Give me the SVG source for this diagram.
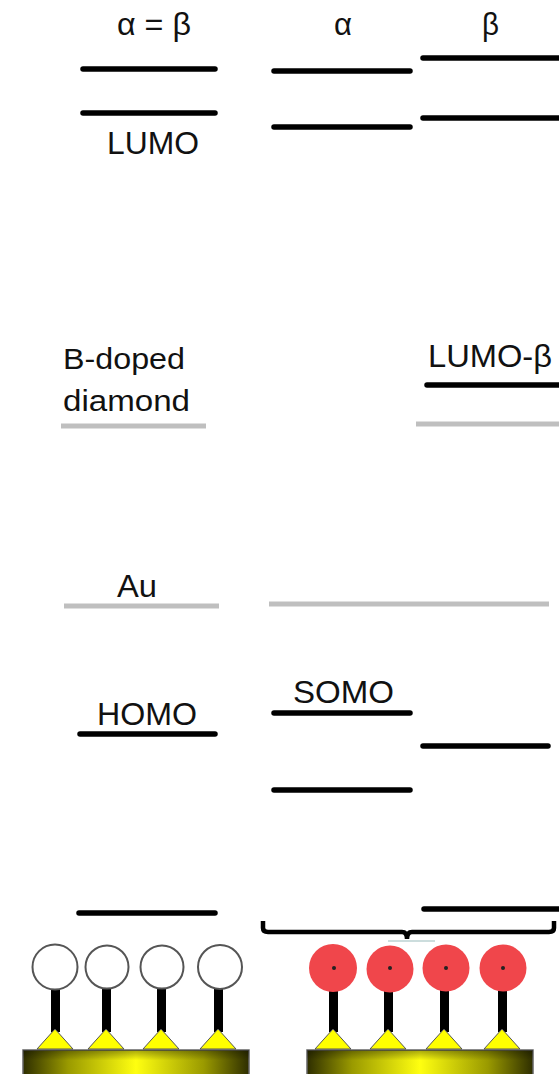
<svg xmlns="http://www.w3.org/2000/svg" width="559" height="1074" viewBox="0 0 559 1074">
  <style>
    .lvl { stroke: #000; stroke-width: 5.5; stroke-linecap: round; fill: none; }
    .ref { stroke: #bfbfbf; stroke-width: 5; fill: none; }
    .lbl { font-family: "Liberation Sans", Arial, sans-serif; fill: #111; }
    .stem { fill: #000; }
    .tri { fill: #ffff00; stroke: #555; stroke-width: 1; }
    .base { fill: url(#gold); stroke: #666; stroke-width: 1.5; }
    .head-open { fill: #fff; stroke: #555; stroke-width: 2; }
    .head-rad { fill: #f0464b; }
  </style>
  <defs>
    <linearGradient id="gold" x1="0" y1="0" x2="1" y2="0">
      <stop offset="0" stop-color="#2e2e00"/>
      <stop offset="0.2" stop-color="#9a9a00"/>
      <stop offset="0.5" stop-color="#ffff10"/>
      <stop offset="0.8" stop-color="#9a9a00"/>
      <stop offset="1" stop-color="#2e2e00"/>
    </linearGradient>
    <linearGradient id="shade" x1="0" y1="0" x2="0" y2="1">
      <stop offset="0" stop-color="#000" stop-opacity="0.35"/>
      <stop offset="0.35" stop-color="#000" stop-opacity="0"/>
      <stop offset="1" stop-color="#000" stop-opacity="0"/>
    </linearGradient>
  </defs>
  <rect width="559" height="1074" fill="#fff"/>

  <!-- column headers -->
  <g id="headers">
    <text class="lbl" x="117" y="35" font-size="31" textLength="74" lengthAdjust="spacingAndGlyphs">α = β</text>
    <text class="lbl" x="334" y="35" font-size="31" textLength="18" lengthAdjust="spacingAndGlyphs">α</text>
    <text class="lbl" x="482" y="35" font-size="31" textLength="17" lengthAdjust="spacingAndGlyphs">β</text>
  </g>

  <!-- closed-shell molecule levels -->
  <g id="closed-shell">
    <line class="lvl" x1="83" y1="69" x2="215" y2="69"/>
    <line class="lvl" x1="83" y1="113" x2="215" y2="113"/>
    <text class="lbl" x="107" y="154" font-size="32" textLength="92" lengthAdjust="spacingAndGlyphs">LUMO</text>
    <text class="lbl" x="97" y="725" font-size="32" textLength="100" lengthAdjust="spacingAndGlyphs">HOMO</text>
    <line class="lvl" x1="80" y1="734" x2="215" y2="734"/>
    <line class="lvl" x1="79" y1="913" x2="215" y2="913"/>
  </g>

  <!-- open-shell alpha levels -->
  <g id="alpha">
    <line class="lvl" x1="274" y1="71" x2="410" y2="71"/>
    <line class="lvl" x1="274" y1="127" x2="410" y2="127"/>
    <text class="lbl" x="293" y="703" font-size="31" textLength="101" lengthAdjust="spacingAndGlyphs">SOMO</text>
    <line class="lvl" x1="274" y1="713" x2="410" y2="713"/>
    <line class="lvl" x1="274" y1="790" x2="410" y2="790"/>
  </g>

  <!-- open-shell beta levels -->
  <g id="beta">
    <line class="lvl" x1="423" y1="58" x2="562" y2="58"/>
    <line class="lvl" x1="423" y1="118" x2="562" y2="118"/>
    <text class="lbl" x="428" y="367" font-size="31" textLength="124" lengthAdjust="spacingAndGlyphs">LUMO-β</text>
    <line class="lvl" x1="427" y1="385" x2="562" y2="385"/>
    <line class="lvl" x1="423" y1="746" x2="548" y2="746"/>
    <line class="lvl" x1="424" y1="909" x2="562" y2="909"/>
  </g>

  <!-- electrode reference levels -->
  <g id="diamond">
    <text class="lbl" x="63" y="369" font-size="29" textLength="122" lengthAdjust="spacingAndGlyphs">B-doped</text>
    <text class="lbl" x="63" y="411" font-size="29" textLength="127" lengthAdjust="spacingAndGlyphs">diamond</text>
    <line class="ref" x1="61" y1="426" x2="206" y2="426"/>
    <line class="ref" x1="416" y1="424" x2="559" y2="424"/>
  </g>
  <g id="gold-level">
    <text class="lbl" x="117" y="597" font-size="32" textLength="40" lengthAdjust="spacingAndGlyphs">Au</text>
    <line class="ref" x1="64" y1="606" x2="219" y2="606"/>
    <line class="ref" x1="269" y1="604" x2="549" y2="604"/>
  </g>

  <!-- bracket grouping the alpha/beta columns -->
  <g id="connectors">
    <path d="M263,921 V928 Q263,932 268,932 H402 Q407,932 407,939 Q407,932 412,932 H549 Q554,932 554,928 V921" fill="none" stroke="#000" stroke-width="4.5"/>
    <line x1="388" y1="941" x2="435" y2="941" stroke="#9bb" stroke-width="1"/>
  </g>

  <!-- closed-shell monolayer on gold -->
  <g id="sam-closed">
    <rect class="base" x="23" y="1050" width="226" height="30"/>
    <rect x="23" y="1050" width="226" height="30" fill="url(#shade)"/>
    <rect class="stem" x="51" y="988" width="9" height="44"/>
    <rect class="stem" x="102" y="988" width="9" height="44"/>
    <rect class="stem" x="157" y="988" width="9" height="44"/>
    <rect class="stem" x="214" y="988" width="9" height="44"/>
    <polygon class="tri" points="55,1029 37,1049 73,1049"/>
    <polygon class="tri" points="106,1029 88,1049 124,1049"/>
    <polygon class="tri" points="161,1029 143,1049 179,1049"/>
    <polygon class="tri" points="218,1029 200,1049 236,1049"/>
    <circle class="head-open" cx="55" cy="967" r="22.5"/>
    <circle class="head-open" cx="107" cy="967" r="21.5"/>
    <circle class="head-open" cx="162" cy="967" r="21.5"/>
    <circle class="head-open" cx="220" cy="967" r="22"/>
  </g>

  <!-- radical monolayer on gold -->
  <g id="sam-radical">
    <rect class="base" x="307" y="1050" width="226" height="30"/>
    <rect x="307" y="1050" width="226" height="30" fill="url(#shade)"/>
    <rect class="stem" x="329" y="988" width="9" height="44"/>
    <rect class="stem" x="384" y="988" width="9" height="44"/>
    <rect class="stem" x="440" y="988" width="9" height="44"/>
    <rect class="stem" x="498" y="988" width="9" height="44"/>
    <polygon class="tri" points="333,1029 315,1049 351,1049"/>
    <polygon class="tri" points="388,1029 370,1049 406,1049"/>
    <polygon class="tri" points="444,1029 426,1049 462,1049"/>
    <polygon class="tri" points="502,1029 484,1049 520,1049"/>
    <circle class="head-rad" cx="333" cy="968" r="24"/>
    <circle class="head-rad" cx="390" cy="969" r="23.5"/>
    <circle class="head-rad" cx="446" cy="968" r="23.5"/>
    <circle class="head-rad" cx="503" cy="968" r="23.5"/>
    <circle cx="334" cy="968" r="2" fill="#222"/>
    <circle cx="390" cy="968" r="2" fill="#222"/>
    <circle cx="446" cy="968" r="2" fill="#222"/>
    <circle cx="503" cy="968" r="2" fill="#222"/>
  </g>
</svg>
